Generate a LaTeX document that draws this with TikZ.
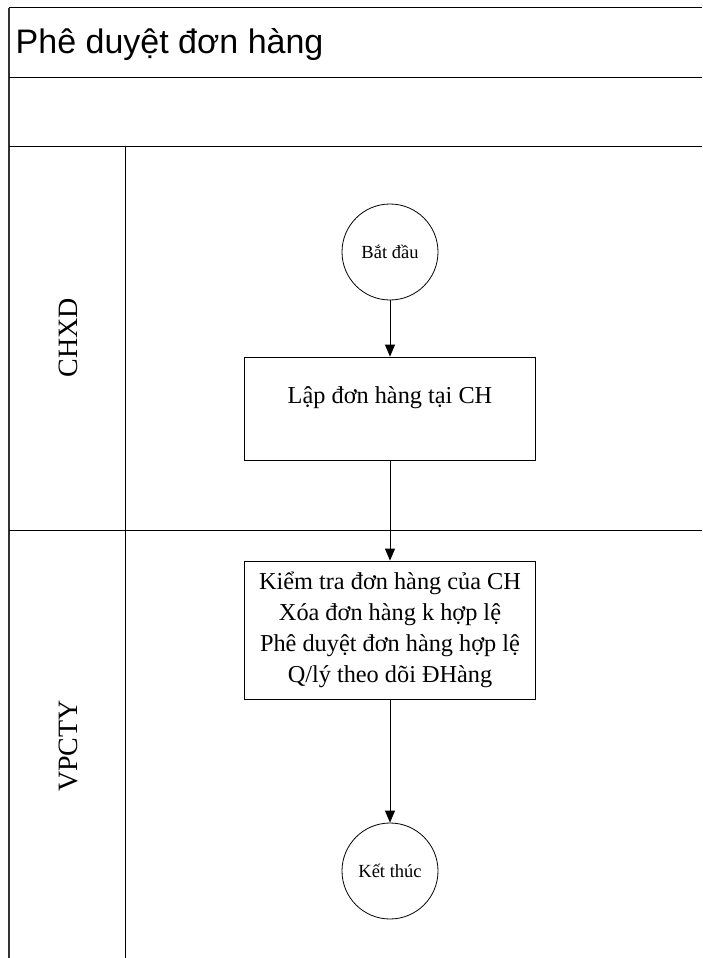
\documentclass[tikz,border=0pt]{standalone}
\usepackage{fontspec}
\setmainfont{Liberation Serif}
\newfontfamily\titlefont{Liberation Sans}
\usetikzlibrary{arrows.meta}
\begin{document}
\begin{tikzpicture}[x=1pt,y=-1pt,
  frame/.style={line width=1pt, draw=black},
  border/.style={line width=2pt, draw=black!80},
  taskbox/.style={draw, line width=0.8pt, minimum width=291pt, align=center, font=\fontsize{24.3}{31}\selectfont, inner sep=0pt},
  term/.style={draw, circle, minimum size=96pt, inner sep=0pt, line width=0.8pt, font=\fontsize{18.5}{22}\selectfont},
  lane/.style={rotate=90, font=\fontsize{28}{32}\selectfont},
  flow/.style={-{Triangle[length=12pt,width=10pt]}, line width=0.8pt}]
\useasboundingbox (0,0) rectangle (702,958);
% swimlane frame
\draw[border] (9,958) -- (9,8);
\draw[frame] (9,8) -- (702,8);
\draw[frame] (9,77) -- (702,77);
\draw[frame] (9,146) -- (702,146);
\draw[frame] (9,530) -- (702,530);
\draw[frame] (125.5,146) -- (125.5,958);
% title and lane labels
\node[anchor=base west, font=\titlefont\fontsize{34}{40}\selectfont, inner sep=0pt] (title) at (15.5,53) {Phê duyệt đơn hàng};
\node[lane] (chxd) at (68,338) {CHXD};
\node[lane] (vpcty) at (68,746) {VPCTY};
% flow
\node[term] (start) at (390,252) {Bắt đầu};
\node[taskbox, minimum height=103pt] (t1) at (390,408.5) {Lập đơn hàng tại CH\\[-14pt]\strut};
\node[taskbox, minimum height=138pt] (t2) at (390,630) {Kiểm tra đơn hàng của CH\\Xóa đơn hàng k hợp lệ\\Phê duyệt đơn hàng hợp lệ\\Q/lý theo dõi ĐHàng};
\node[term] (end) at (390,871) {Kết thúc};
\draw[flow] (start) -- (t1);
\draw[flow] (t1) -- (t2);
\draw[flow] (t2) -- (end);
\end{tikzpicture}
\end{document}
